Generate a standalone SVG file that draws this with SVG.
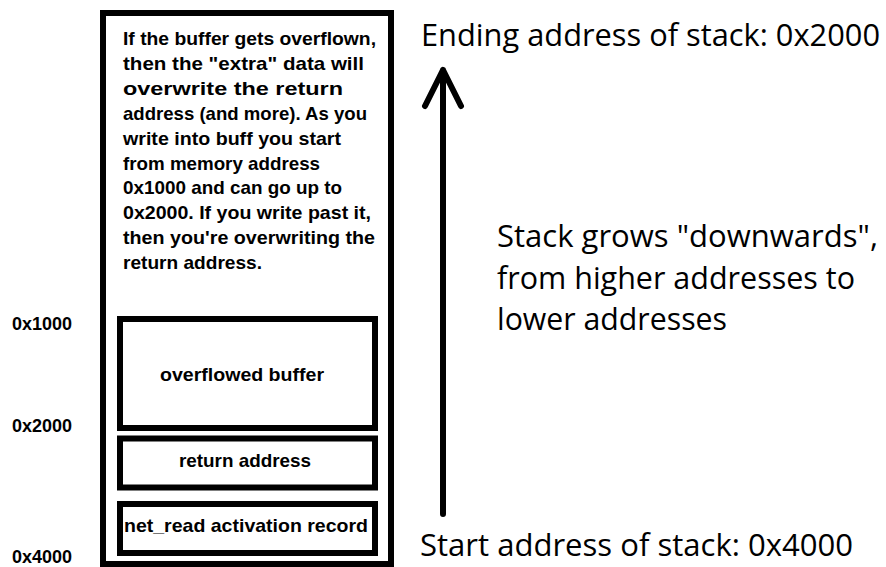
<svg xmlns="http://www.w3.org/2000/svg" width="886" height="567" viewBox="0 0 886 567">
<style>
.box{fill:#fff;stroke:#000;stroke-width:6}
.b{font-family:"Liberation Sans",Arial,sans-serif;font-weight:bold;font-size:19px;fill:#000}
.big{font-family:"Open Sans","Liberation Sans",sans-serif;font-size:31px;fill:#000}
.conn{stroke:#000;stroke-width:6;stroke-linecap:round;stroke-linejoin:round;fill:none}
</style>
<rect x="0" y="0" width="886" height="567" fill="#fff"/>
<g id="stack">
<rect class="box" x="103" y="13" width="288" height="551"/>
<text class="b">
<tspan x="123" y="45" textLength="253" lengthAdjust="spacingAndGlyphs">If the buffer gets overflown,</tspan>
<tspan x="123" y="69.9" textLength="241" lengthAdjust="spacingAndGlyphs">then the "extra" data will</tspan>
<tspan x="123" y="94.8" textLength="220" lengthAdjust="spacingAndGlyphs">overwrite the return</tspan>
<tspan x="123" y="119.7" textLength="244" lengthAdjust="spacingAndGlyphs">address (and more). As you</tspan>
<tspan x="123" y="144.6" textLength="218" lengthAdjust="spacingAndGlyphs">write into buff you start</tspan>
<tspan x="123" y="169.5" textLength="197" lengthAdjust="spacingAndGlyphs">from memory address</tspan>
<tspan x="123" y="194.4" textLength="219" lengthAdjust="spacingAndGlyphs">0x1000 and can go up to</tspan>
<tspan x="123" y="219.3" textLength="248" lengthAdjust="spacingAndGlyphs">0x2000. If you write past it,</tspan>
<tspan x="123" y="244.2" textLength="252" lengthAdjust="spacingAndGlyphs">then you're overwriting the</tspan>
<tspan x="123" y="269.1" textLength="139" lengthAdjust="spacingAndGlyphs">return address.</tspan>
</text>
</g>
<g id="buffer">
<rect class="box" x="120" y="319" width="255" height="109"/>
<text class="b" x="160" y="381" textLength="164" lengthAdjust="spacingAndGlyphs">overflowed buffer</text>
</g>
<g id="retaddr">
<rect class="box" x="120" y="438.5" width="255" height="49"/>
<text class="b" x="179" y="467" textLength="132" lengthAdjust="spacingAndGlyphs">return address</text>
</g>
<g id="netread">
<rect class="box" x="120" y="504" width="255" height="49"/>
<text class="b" x="124" y="532" textLength="244" lengthAdjust="spacingAndGlyphs">net_read activation record</text>
</g>
<g id="labels">
<text class="b" x="12" y="330" font-size="18" textLength="60" lengthAdjust="spacingAndGlyphs">0x1000</text>
<text class="b" x="12" y="432" font-size="18" textLength="60" lengthAdjust="spacingAndGlyphs">0x2000</text>
<text class="b" x="12" y="563" font-size="18" textLength="60" lengthAdjust="spacingAndGlyphs">0x4000</text>
</g>
<g id="connectors">
<path class="conn" d="M443 514 V70 M425 106 L443 70 L461 106"/>
</g>
<g id="notes">
<text class="big" x="421" y="46" textLength="459" lengthAdjust="spacingAndGlyphs">Ending address of stack: 0x2000</text>
<text class="big" x="420" y="556" textLength="433" lengthAdjust="spacingAndGlyphs">Start address of stack: 0x4000</text>
<text class="big" x="497" y="247" textLength="381" lengthAdjust="spacingAndGlyphs">Stack grows "downwards",</text>
<text class="big" x="497" y="288.5" textLength="358" lengthAdjust="spacingAndGlyphs">from higher addresses to</text>
<text class="big" x="497" y="330" textLength="230" lengthAdjust="spacingAndGlyphs">lower addresses</text>
</g>
</svg>
